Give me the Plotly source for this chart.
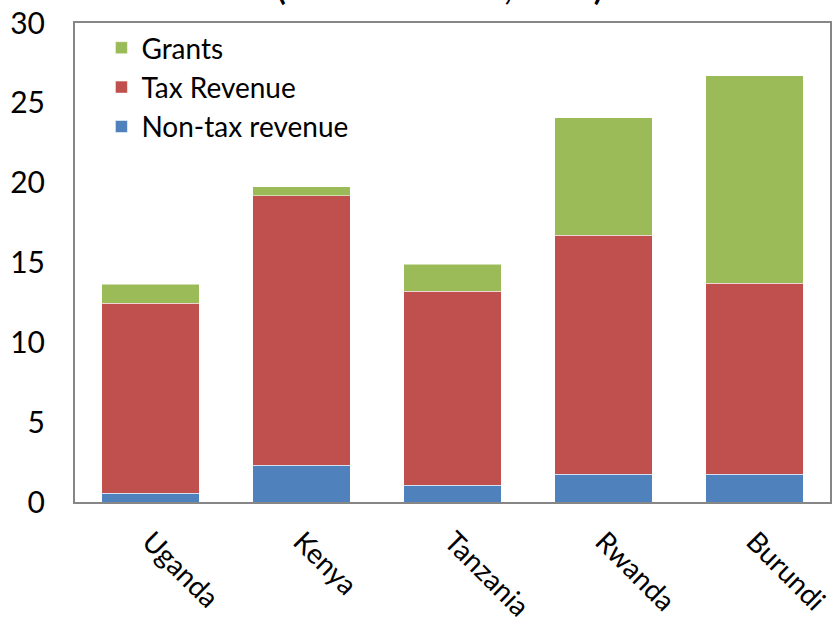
import plotly.graph_objects as go

countries = ["Uganda", "Kenya", "Tanzania", "Rwanda", "Burundi"]
non_tax = [0.56, 2.29, 1.06, 1.73, 1.75]
tax_revenue = [11.9, 16.9, 12.13, 14.98, 11.96]
grants = [1.17, 0.56, 1.69, 7.35, 12.98]

title_text = "(Percent of GDP, 2011)"
font_family = "Lato, 'Liberation Sans', sans-serif"

fig = go.Figure()
fig.add_trace(go.Bar(x=countries, y=non_tax, name="Non-tax revenue",
                     marker=dict(color="#4F81BD", line=dict(color="rgba(255,255,255,0.5)", width=1))))
fig.add_trace(go.Bar(x=countries, y=tax_revenue, name="Tax Revenue",
                     marker=dict(color="#C0504D", line=dict(color="rgba(255,255,255,0.5)", width=1))))
fig.add_trace(go.Bar(x=countries, y=grants, name="Grants",
                     marker=dict(color="#9BBB59", line=dict(color="rgba(255,255,255,0.5)", width=1))))

fig.update_layout(
    barmode="stack",
    bargap=0.355,
    width=836, height=625,
    margin=dict(l=75, r=3, t=22, b=123),
    plot_bgcolor="white",
    paper_bgcolor="white",
    font=dict(family=font_family, size=26, color="black"),
    showlegend=True,
    legend=dict(x=0.035, y=1.0, xanchor="left", yanchor="top",
                traceorder="reversed", font=dict(size=28),
                bgcolor="rgba(0,0,0,0)", itemwidth=30, tracegroupgap=0),
    annotations=[dict(text="<b>" + title_text + "</b>", xref="paper", yref="paper",
                      x=0.483, y=1.03, xanchor="center", yanchor="bottom",
                      showarrow=False, font=dict(size=32, family=font_family))],
)
fig.update_xaxes(showline=True, linecolor="#868686", linewidth=2, mirror=True,
                 tickangle=45, tickfont=dict(size=28), ticks="", ticklabelstandoff=10)
fig.update_yaxes(range=[0, 30], dtick=5, showgrid=False, zeroline=False,
                 showline=True, linecolor="#868686", linewidth=2, mirror=True,
                 tickfont=dict(size=30), ticks="", ticklen=0, ticklabelstandoff=22)

fig.write_html("out.html")
